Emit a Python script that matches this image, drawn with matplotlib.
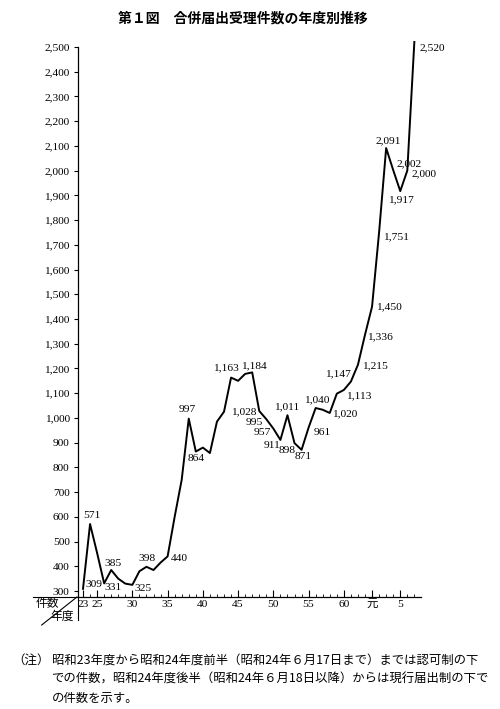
import matplotlib
matplotlib.use("Agg")
import matplotlib.pyplot as plt

# number font first, Japanese fallback for 元 etc.
plt.rcParams["font.family"] = ["Liberation Serif", "Noto Sans CJK JP"]
JP = "Noto Sans CJK JP"

# fiscal years (Showa 23 .. Heisei 7 written as Showa 70)
years = list(range(23, 71))
counts = [309, 571, 454, 331, 385, 350, 330, 325, 380, 398,
          385, 415, 440, 600, 750, 997, 864, 880, 858, 985,
          1025, 1163, 1150, 1178, 1184, 1028, 995, 957, 911, 1011,
          898, 871, 961, 1040, 1033, 1020, 1098, 1113, 1147, 1215,
          1336, 1450, 1751, 2091, 2002, 1917, 2000, 2520]

x_tick_pos = [23, 25, 30, 35, 40, 45, 50, 55, 60, 64, 68]
x_tick_labels = ["23", "25", "30", "35", "40", "45", "50", "55", "60", "元", "5"]
y_ticks = list(range(300, 2600, 100))

title = "第１図　合併届出受理件数の年度別推移"
note_head = "（注）"
note_lines = ["昭和23年度から昭和24年度前半（昭和24年６月17日まで）までは認可制の下",
              "での件数，昭和24年度後半（昭和24年６月18日以降）からは現行届出制の下で",
              "の件数を示す。"]

# where each value label sits: year -> (dx px, dy px, ha)
label_pos = {
    23: (2, 4, "left"), 24: (2, 9, "center"), 26: (0, -4, "left"),
    27: (2, 7, "center"), 30: (2, -4, "left"), 32: (1, 8, "center"),
    35: (3, -2, "left"), 38: (-2, 9, "center"), 39: (0, -7, "center"),
    44: (-5, 10, "center"), 47: (2, 7, "center"), 48: (-3, -1, "right"),
    49: (-3, -3, "right"), 50: (-2, -4, "right"), 51: (-8, -6, "center"),
    52: (-1, 8, "center"), 53: (-7, -7, "center"), 54: (2, -7, "center"),
    55: (5, -5, "left"), 56: (1, 8, "center"), 58: (2, -1, "left"),
    60: (2, -6, "left"), 61: (-13, 8, "center"), 62: (4, -1, "left"),
    63: (2, -2, "left"), 64: (4, 0, "left"), 65: (4, -5, "left"),
    66: (2, 7, "center"), 67: (3, 6, "left"), 68: (1, -9, "center"),
    69: (4, -3, "left"), 70: (5, -6, "left"),
}

fig = plt.figure(figsize=(5, 7.09), dpi=100)
ax = fig.add_axes([0.156, 0.158, 0.6868, 0.7828])

ax.plot(years, counts, color="black", lw=1.4, clip_on=False)

ax.set_xlim(22.29, 71)
ax.set_ylim(276, 2520)

for s in ["top", "right"]:
    ax.spines[s].set_visible(False)
ax.spines["left"].set_bounds(276, 2500)
ax.spines["left"].set_linewidth(0.9)
ax.spines["bottom"].set_linewidth(0.9)

ax.set_yticks(y_ticks)
ax.set_yticklabels([f"{v:,}" for v in y_ticks])
ax.tick_params(axis="y", direction="out", length=3, width=0.8, pad=3, labelsize=8.2)

ax.set_xticks(x_tick_pos)
ax.set_xticklabels(x_tick_labels)
ax.set_xticks(years, minor=True)
ax.tick_params(axis="x", which="major", direction="in", length=5, width=0.8, pad=2, labelsize=8.2)
ax.tick_params(axis="x", which="minor", direction="in", length=2.5, width=0.6)

# value labels
for yr, v in zip(years, counts):
    if yr in label_pos:
        dx, dy, ha = label_pos[yr]
        ax.annotate(f"{v:,}", (yr, v), xytext=(dx, dy), textcoords="offset pixels",
                    ha=ha, va="center", fontsize=8.2, annotation_clip=False)

# corner box: 件数 / 年度 with diagonal
kw = dict(transform=ax.transAxes, color="black", lw=0.8, clip_on=False)
ax.plot([-0.13, 0], [0, 0], **kw)
ax.plot([0, 0], [0, -0.0414], **kw)
ax.plot([-0.1057, -0.003], [-0.0505, 0], **kw)
ax.text(-0.0903, -0.0126, "件数", transform=ax.transAxes, ha="center", va="center",
        fontsize=8.5, family=JP)
ax.text(-0.0466, -0.0342, "年度", transform=ax.transAxes, ha="center", va="center",
        fontsize=8.5, family=JP)

fig.text(243 / 500, 1 - 18 / 709, title, ha="center", va="center",
         fontsize=10, fontweight="bold", family=JP)

fig.text(50 / 500, 1 - 660 / 709, note_head, ha="right", va="center", fontsize=9, family=JP)
for i, line in enumerate(note_lines):
    fig.text(52 / 500, 1 - (660 + 19 * i) / 709, line, ha="left", va="center",
             fontsize=8.9, family=JP)

fig.savefig("out.png", dpi=100)
